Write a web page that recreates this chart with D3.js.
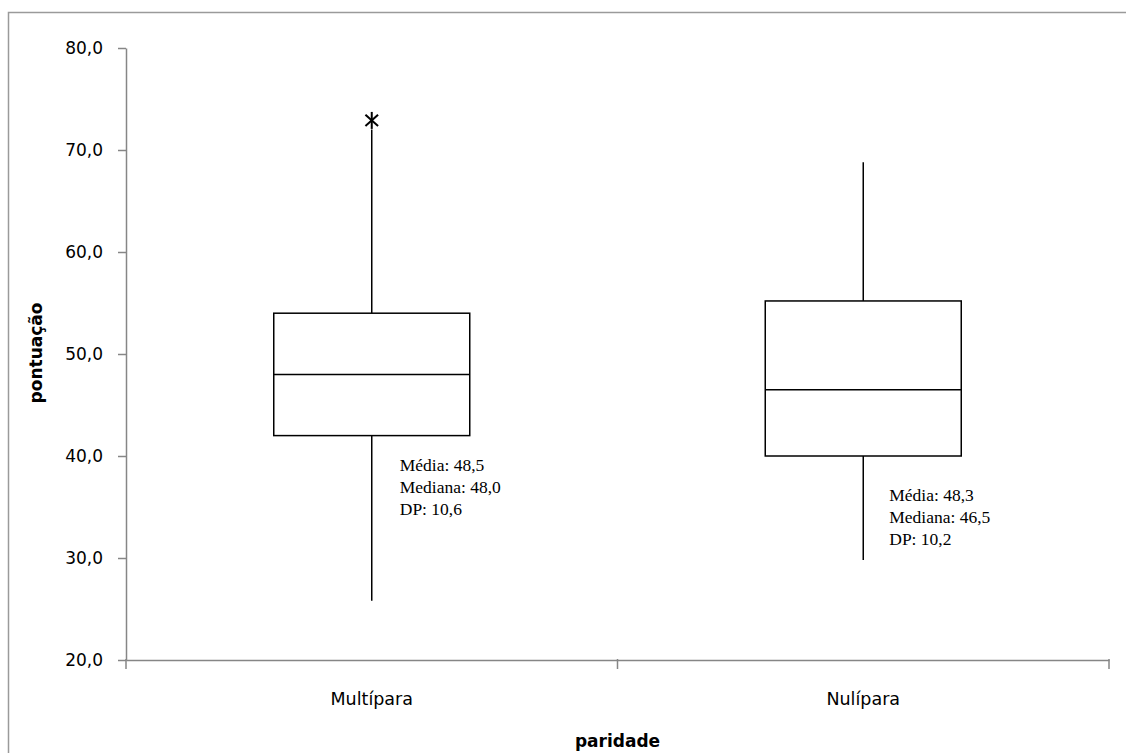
<!DOCTYPE html>
<html>
<head>
<meta charset="utf-8">
<script src="https://cdn.jsdelivr.net/npm/d3@7"></script>
<style>
body { margin: 0; background: #fff; }
</style>
</head>
<body>
<script>
// box plot data
var categories = ["Multípara", "Nulípara"];
var whiskerLow = [25.8, 29.8];
var q1 = [42.0, 40.0];
var median = [48.0, 46.5];
var q3 = [54.0, 55.2];
var whiskerHigh = [72.0, 68.8];
var outliers = [[72.9], []];
var notes = [
    ["Média: 48,5", "Mediana: 48,0", "DP: 10,6"],
    ["Média: 48,3", "Mediana: 46,5", "DP: 10,2"]
];
var yTicks = [20, 30, 40, 50, 60, 70, 80];

var width = 1126, height = 753;
var svg = d3.select("body")
        .append("svg")
        .attr("width", width)
        .attr("height", height);

// outer chart frame
svg.append("rect")
        .attr("x", 8.5)
        .attr("y", 12.5)
        .attr("width", 1130)
        .attr("height", 760)
        .attr("fill", "none")
        .attr("stroke", "#9a9a9a")
        .attr("stroke-width", 1.5);

var plotLeft = 126, plotRight = 1109, plotTop = 48, plotBottom = 660;

var y = d3.scaleLinear()
        .domain([20, 80])
        .range([plotBottom, plotTop]);

var x = d3.scaleBand()
        .domain(categories)
        .range([plotLeft, plotRight]);

var gray = "#868686";
var sans = "DejaVu Sans, Verdana, sans-serif";

// y axis
var yAxis = svg.append("g")
        .attr("transform", "translate(" + plotLeft + ",0)")
        .call(d3.axisLeft(y).tickValues(yTicks).tickSize(8).tickSizeOuter(0)
            .tickFormat(function(d) { return d3.format(".1f")(d).replace(".", ","); }));
yAxis.selectAll("path, line").attr("stroke", gray).attr("stroke-width", 1.5);
yAxis.selectAll("text")
        .attr("font-family", sans)
        .attr("font-size", 17)
        .attr("fill", "#000")
        .attr("x", -23);

// x axis
var xAxis = svg.append("g")
        .attr("transform", "translate(0," + plotBottom + ")")
        .call(d3.axisBottom(x).tickSize(0).tickSizeOuter(0));
xAxis.selectAll("path").attr("stroke", gray).attr("stroke-width", 1.5);
xAxis.selectAll("text")
        .attr("font-family", sans)
        .attr("font-size", 17.5)
        .attr("fill", "#000")
        .attr("y", 33);
// tick marks between categories
var edges = [plotLeft, plotLeft + x.bandwidth(), plotRight];
svg.selectAll(".xtick")
        .data(edges)
        .enter()
        .append("line")
        .attr("x1", function(d) { return d; })
        .attr("x2", function(d) { return d; })
        .attr("y1", plotBottom - 1)
        .attr("y2", plotBottom + 9)
        .attr("stroke", gray)
        .attr("stroke-width", 1.5);

// axis titles
svg.append("text")
        .attr("transform", "translate(42,353) rotate(-90)")
        .attr("text-anchor", "middle")
        .attr("font-family", sans)
        .attr("font-weight", "bold")
        .attr("font-size", 17)
        .text("pontuação");

svg.append("text")
        .attr("x", (plotLeft + plotRight) / 2)
        .attr("y", 747)
        .attr("text-anchor", "middle")
        .attr("font-family", sans)
        .attr("font-weight", "bold")
        .attr("font-size", 17)
        .text("paridade");

var boxW = 196;
var boxes = svg.selectAll(".box")
        .data(categories)
        .enter()
        .append("g")
        .attr("class", "box");

function cx(i) { return x(categories[i]) + x.bandwidth() / 2; }

// whiskers
boxes.append("line")
        .attr("x1", function(d, i) { return cx(i); })
        .attr("x2", function(d, i) { return cx(i); })
        .attr("y1", function(d, i) { return y(whiskerHigh[i]); })
        .attr("y2", function(d, i) { return y(q3[i]); })
        .attr("stroke", "#000")
        .attr("stroke-width", 1.5);
boxes.append("line")
        .attr("x1", function(d, i) { return cx(i); })
        .attr("x2", function(d, i) { return cx(i); })
        .attr("y1", function(d, i) { return y(q1[i]); })
        .attr("y2", function(d, i) { return y(whiskerLow[i]); })
        .attr("stroke", "#000")
        .attr("stroke-width", 1.5);

// boxes
boxes.append("rect")
        .attr("x", function(d, i) { return cx(i) - boxW / 2; })
        .attr("y", function(d, i) { return y(q3[i]); })
        .attr("width", boxW)
        .attr("height", function(d, i) { return y(q1[i]) - y(q3[i]); })
        .attr("fill", "#fff")
        .attr("stroke", "#000")
        .attr("stroke-width", 1.5);

// medians
boxes.append("line")
        .attr("x1", function(d, i) { return cx(i) - boxW / 2; })
        .attr("x2", function(d, i) { return cx(i) + boxW / 2; })
        .attr("y1", function(d, i) { return y(median[i]); })
        .attr("y2", function(d, i) { return y(median[i]); })
        .attr("stroke", "#000")
        .attr("stroke-width", 1.5);

// outliers as asterisks
boxes.each(function(d, i) {
    var g = d3.select(this);
    outliers[i].forEach(function(v) {
        var px = cx(i), py = y(v), r = 8.5;
        [90, 42, -42].forEach(function(a) {
            var rad = a * Math.PI / 180;
            g.append("line")
                .attr("x1", px - r * Math.cos(rad))
                .attr("y1", py - r * Math.sin(rad))
                .attr("x2", px + r * Math.cos(rad))
                .attr("y2", py + r * Math.sin(rad))
                .attr("stroke", "#000")
                .attr("stroke-width", 2);
        });
    });
});

// stats notes
boxes.each(function(d, i) {
    var t = d3.select(this).append("text")
        .attr("font-family", "Liberation Serif, Times New Roman, serif")
        .attr("font-size", 17.5)
        .attr("fill", "#000");
    var ny = i == 0 ? 471 : 501;
    notes[i].forEach(function(line, k) {
        t.append("tspan")
            .attr("x", cx(i) + (i == 0 ? 28 : 26))
            .attr("y", ny + k * 22)
            .text(line);
    });
});
</script>
</body>
</html>
